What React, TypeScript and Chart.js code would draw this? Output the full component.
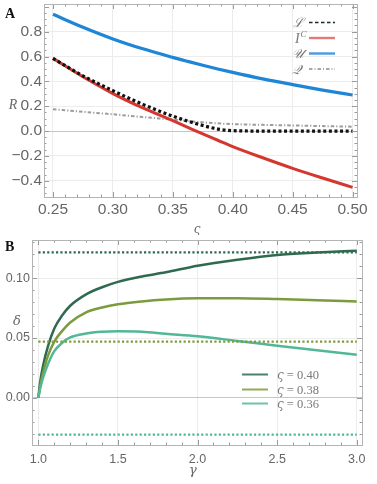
import React, { useEffect, useRef } from "react";
import { Chart, registerables } from "chart.js";
Chart.register(...registerables);

// ---------- Panel A data ----------
const sigma = [0.25, 0.275, 0.3, 0.325, 0.35, 0.3625, 0.375, 0.3875, 0.4, 0.425, 0.45, 0.475, 0.5];
const seriesL = [0.585, 0.445, 0.325, 0.215, 0.12, 0.08, 0.045, 0.016, 0.003, 0, 0, 0, 0];
const seriesIC = [0.585, 0.437, 0.302, 0.186, 0.083, 0.03, -0.023, -0.074, -0.125, -0.215, -0.3, -0.378, -0.453];
const seriesU = [0.94, 0.836, 0.742, 0.662, 0.593, 0.561, 0.53, 0.5, 0.472, 0.42, 0.374, 0.33, 0.29];
const seriesQ = [0.175, 0.155, 0.135, 0.113, 0.092, 0.081, 0.07, 0.062, 0.056, 0.05, 0.045, 0.04, 0.035];
const xTicksA = [0.25, 0.3, 0.35, 0.4, 0.45, 0.5];
const yTicksA = [-0.4, -0.2, 0, 0.2, 0.4, 0.6, 0.8];

// ---------- Panel B data ----------
const gamma = [1.0, 1.01, 1.03, 1.06, 1.1, 1.15, 1.2, 1.3, 1.4, 1.5, 1.65, 1.8, 2.0, 2.25, 2.5, 2.75, 3.0];
const delta040 = [0, 0.012, 0.027, 0.043, 0.058, 0.069, 0.077, 0.0865, 0.0925, 0.097, 0.1015, 0.105, 0.1105, 0.1155, 0.1195, 0.1215, 0.123];
const delta038 = [0, 0.009, 0.021, 0.035, 0.047, 0.056, 0.063, 0.0715, 0.0755, 0.0782, 0.0806, 0.0822, 0.0832, 0.0833, 0.0826, 0.0816, 0.0805];
const delta036 = [0, 0.007, 0.017, 0.028, 0.039, 0.046, 0.0505, 0.0538, 0.0552, 0.0556, 0.0552, 0.0535, 0.0514, 0.0476, 0.0436, 0.0398, 0.036];
const gammaEnds = [1.0, 3.0];
const level040 = 0.1217;
const level038 = 0.0469;
const level036 = -0.0308;
const xTicksB = [1.0, 1.5, 2.0, 2.5, 3.0];
const yTicksB = [0, 0.05, 0.1];
const legendB = ["0.40", "0.38", "0.36"];

const C_DARK = "#2f6a4f";
const C_OLIVE = "#7c9b3e";
const C_TEAL = "#52b798";
const C_RED = "#d3372f";
const C_BLUE = "#1f86d6";
const LABEL_GRAY = "#666";

const pts = (xs: number[], ys: number[]) => xs.map((x, i) => ({ x, y: ys[i] }));

function fmt(v: number, d: number) {
  const s = Math.abs(v).toFixed(d);
  return v < -1e-9 ? "\u2212" + s : s;
}

function zeroPad(s: any) {
  s.paddingTop = 0; s.paddingBottom = 0; s.paddingLeft = 0; s.paddingRight = 0;
}

function framePlugin(opts: {
  xMajor: number; xMinor: number; yMajor: number; yMinor: number;
  annotate: (ctx: CanvasRenderingContext2D, chart: any) => void;
}) {
  return {
    id: "frameTicks",
    afterDatasetsDraw(chart: any) {
      const ctx: CanvasRenderingContext2D = chart.ctx;
      const a = chart.chartArea;
      const xs = chart.scales.x;
      const ys = chart.scales.y;
      ctx.save();
      ctx.strokeStyle = "#9a9a9a";
      ctx.lineWidth = 1;
      const loop = (scale: any, major: number, minor: number, draw: (p: number, len: number) => void) => {
        const start = Math.ceil(scale.min / minor - 1e-9);
        for (let k = start; k * minor <= scale.max + 1e-9; k++) {
          const v = k * minor;
          const r = v / major;
          const isMajor = Math.abs(r - Math.round(r)) < 1e-6;
          draw(scale.getPixelForValue(v), isMajor ? 5 : 2.5);
        }
      };
      ctx.beginPath();
      loop(xs, opts.xMajor, opts.xMinor, (p, len) => {
        const x = Math.round(p) + 0.5;
        ctx.moveTo(x, a.bottom); ctx.lineTo(x, a.bottom - len);
        ctx.moveTo(x, a.top); ctx.lineTo(x, a.top + len);
      });
      loop(ys, opts.yMajor, opts.yMinor, (p, len) => {
        const y = Math.round(p) + 0.5;
        ctx.moveTo(a.left, y); ctx.lineTo(a.left + len, y);
        ctx.moveTo(a.right, y); ctx.lineTo(a.right - len, y);
      });
      ctx.stroke();
      ctx.strokeStyle = "#b4b4b4";
      ctx.strokeRect(Math.round(a.left) + 0.5, Math.round(a.top) + 0.5, Math.round(a.right - a.left), Math.round(a.bottom - a.top));
      ctx.restore();
    },
    afterDraw(chart: any) {
      const ctx: CanvasRenderingContext2D = chart.ctx;
      ctx.save();
      opts.annotate(ctx, chart);
      ctx.restore();
    },
  };
}

function gridColor(ctx: any) {
  return ctx.tick && Math.abs(ctx.tick.value) < 1e-9 ? "#c6c6c6" : "#ececec";
}

function ChartA() {
  const ref = useRef<HTMLCanvasElement>(null);
  useEffect(() => {
    const W = 377, H = 235;
    const plotLeft = 44, plotRight = 357, plotTop = 4, plotBottom = 197;
    const chart = new Chart(ref.current!, {
      type: "line",
      data: {
        datasets: [
          { label: "L", data: pts(sigma, seriesL), borderColor: "#111", borderWidth: 3.2, borderDash: [3, 2.6], cubicInterpolationMode: "monotone", pointRadius: 0, order: 0 },
          { label: "IC", data: pts(sigma, seriesIC), borderColor: C_RED, borderWidth: 3, cubicInterpolationMode: "monotone", pointRadius: 0, order: 2 },
          { label: "U", data: pts(sigma, seriesU), borderColor: C_BLUE, borderWidth: 3.2, cubicInterpolationMode: "monotone", pointRadius: 0, order: 1 },
          { label: "Q", data: pts(sigma, seriesQ), borderColor: "#9c9c9c", borderWidth: 2, borderDash: [3.5, 2, 1.2, 2], cubicInterpolationMode: "monotone", pointRadius: 0, order: 3 },
        ] as any,
      },
      options: {
        responsive: false,
        animation: false,
        devicePixelRatio: 1,
        layout: { padding: { left: 0, top: plotTop, right: W - plotRight, bottom: 0 } },
        plugins: { legend: { display: false }, tooltip: { enabled: false } },
        scales: {
          x: {
            type: "linear", min: 0.2425, max: 0.5037,
            afterBuildTicks: (s: any) => { s.ticks = xTicksA.map((v) => ({ value: v })); },
            afterFit: (s: any) => { s.height = H - plotBottom; zeroPad(s); },
            ticks: { callback: (v: any) => fmt(Number(v), 2), color: LABEL_GRAY, font: { family: "Liberation Sans", size: 15.5 }, padding: 3, maxRotation: 0, autoSkip: false },
            grid: { color: gridColor, drawTicks: false },
            border: { display: false },
          },
          y: {
            type: "linear", min: -0.531, max: 1.023,
            afterBuildTicks: (s: any) => { s.ticks = yTicksA.map((v) => ({ value: v })); },
            afterFit: (s: any) => { s.width = plotLeft; zeroPad(s); },
            ticks: { callback: (v: any) => fmt(Number(v), 1), color: LABEL_GRAY, font: { family: "Liberation Sans", size: 15.5 }, padding: 2, autoSkip: false },
            grid: { color: gridColor, drawTicks: false },
            border: { display: false },
          },
        },
      },
      plugins: [
        framePlugin({
          xMajor: 0.05, xMinor: 0.01, yMajor: 0.2, yMinor: 0.05,
          annotate: (ctx) => {
            ctx.fillStyle = "#111";
            ctx.font = "bold 14px 'Liberation Serif'";
            ctx.textBaseline = "alphabetic";
            ctx.textAlign = "left";
            ctx.fillText("A", 5, 18);
            ctx.fillStyle = LABEL_GRAY;
            ctx.font = "italic 14px 'Liberation Serif'";
            ctx.textAlign = "center";
            ctx.fillText("R", 13, 109);
            ctx.font = "italic 12px 'DejaVu Serif'";
            ctx.fillText("\u03C2", 197, 233);
            // legend
            const rows = [22.5, 38, 53.5, 69];
            const lx0 = 309, lx1 = 335;
            ctx.textAlign = "left";
            ctx.fillStyle = "#777";
            ctx.font = "italic 13px 'DejaVu Serif'";
            ctx.fillText("\u2112", 293, rows[0] + 4.5);
            ctx.font = "italic 14px 'Liberation Serif'";
            ctx.fillText("I", 295, rows[1] + 5);
            ctx.font = "italic 9px 'Liberation Serif'";
            ctx.fillText("C", 300.5, rows[1] - 1);
            ctx.font = "italic 13px 'DejaVu Serif'";
            ctx.fillText("\uD835\uDCB0", 292, rows[2] + 4.5);
            ctx.fillText("\uD835\uDCAC", 292, rows[3] + 4.5);
            const seg = (y: number, color: string, w: number, dash: number[]) => {
              ctx.beginPath();
              ctx.strokeStyle = color; ctx.lineWidth = w; ctx.setLineDash(dash);
              ctx.moveTo(lx0, y); ctx.lineTo(lx1, y); ctx.stroke();
            };
            seg(rows[0], "#1b2a1f", 1.6, [3.5, 2.5]);
            seg(rows[1], "#e27a78", 2.4, []);
            seg(rows[2], "#4a9be0", 2.4, []);
            seg(rows[3], "#8a8a8a", 1.4, [3.5, 2, 1, 2]);
            ctx.setLineDash([]);
          },
        }),
      ],
    });
    return () => chart.destroy();
  }, []);
  return <canvas ref={ref} width={377} height={235} style={{ display: "block", width: 377, height: 235 }} />;
}

function ChartB() {
  const ref = useRef<HTMLCanvasElement>(null);
  useEffect(() => {
    const W = 377, H = 249;
    const plotLeft = 32, plotRight = 362, plotTop = 5, plotBottom = 210;
    const dotted = (level: number, color: string) => ({
      data: pts(gammaEnds, [level, level]), borderColor: color, borderWidth: 2.2, borderDash: [2.2, 2.2], pointRadius: 0,
    });
    const chart = new Chart(ref.current!, {
      type: "line",
      data: {
        datasets: [
          dotted(level040, C_DARK),
          dotted(level038, C_OLIVE),
          dotted(level036, C_TEAL),
          { data: pts(gamma, delta036), borderColor: C_TEAL, borderWidth: 2.5, cubicInterpolationMode: "monotone", pointRadius: 0 },
          { data: pts(gamma, delta038), borderColor: C_OLIVE, borderWidth: 2.5, cubicInterpolationMode: "monotone", pointRadius: 0 },
          { data: pts(gamma, delta040), borderColor: C_DARK, borderWidth: 2.5, cubicInterpolationMode: "monotone", pointRadius: 0 },
        ] as any,
      },
      options: {
        responsive: false,
        animation: false,
        devicePixelRatio: 1,
        layout: { padding: { left: 0, top: plotTop, right: W - plotRight, bottom: 0 } },
        plugins: { legend: { display: false }, tooltip: { enabled: false } },
        scales: {
          x: {
            type: "linear", min: 0.96, max: 3.033,
            afterBuildTicks: (s: any) => { s.ticks = xTicksB.map((v) => ({ value: v })); },
            afterFit: (s: any) => { s.height = H - plotBottom; zeroPad(s); },
            ticks: { callback: (v: any) => fmt(Number(v), 1), color: LABEL_GRAY, font: { family: "Liberation Sans", size: 12.5 }, padding: 7, maxRotation: 0, autoSkip: false },
            grid: { color: gridColor, drawTicks: false },
            border: { display: false },
          },
          y: {
            type: "linear", min: -0.0395, max: 0.132,
            afterBuildTicks: (s: any) => { s.ticks = yTicksB.map((v) => ({ value: v })); },
            afterFit: (s: any) => { s.width = plotLeft; zeroPad(s); },
            ticks: { callback: (v: any) => fmt(Number(v), 2), color: LABEL_GRAY, font: { family: "Liberation Sans", size: 12.5 }, padding: 2, autoSkip: false },
            grid: { color: gridColor, drawTicks: false },
            border: { display: false },
          },
        },
      },
      plugins: [
        framePlugin({
          xMajor: 0.5, xMinor: 0.1, yMajor: 0.05, yMinor: 0.01,
          annotate: (ctx) => {
            ctx.fillStyle = "#111";
            ctx.font = "bold 14px 'Liberation Serif'";
            ctx.textAlign = "left";
            ctx.textBaseline = "alphabetic";
            ctx.fillText("B", 5, 16);
            ctx.fillStyle = LABEL_GRAY;
            ctx.textAlign = "center";
            ctx.font = "italic 13px 'DejaVu Serif'";
            ctx.fillText("\u03B4", 17, 90);
            ctx.fillText("\u03B3", 193, 239);
            const rows = [139.5, 154.5, 168.5];
            const colors = [C_DARK, C_OLIVE, C_TEAL];
            ctx.textAlign = "left";
            rows.forEach((y, i) => {
              ctx.beginPath();
              ctx.strokeStyle = colors[i];
              ctx.globalAlpha = 0.85;
              ctx.lineWidth = 2;
              ctx.moveTo(242, y); ctx.lineTo(268, y); ctx.stroke();
              ctx.globalAlpha = 1;
              ctx.fillStyle = "#7a7a7a";
              ctx.font = "italic 12px 'DejaVu Serif'";
              ctx.fillText("\u03C2", 277, y + 4);
              const w = ctx.measureText("\u03C2").width;
              ctx.font = "12.5px 'Liberation Serif'";
              ctx.fillText(" = " + legendB[i], 277 + w, y + 4);
            });
          },
        }),
      ],
    });
    return () => chart.destroy();
  }, []);
  return <canvas ref={ref} width={377} height={249} style={{ display: "block", width: 377, height: 249 }} />;
}

export default function App() {
  return (
    <div style={{ position: "absolute", left: 0, top: 0, width: 377, height: 484, background: "#fff" }}>
      <ChartA />
      <ChartB />
    </div>
  );
}
